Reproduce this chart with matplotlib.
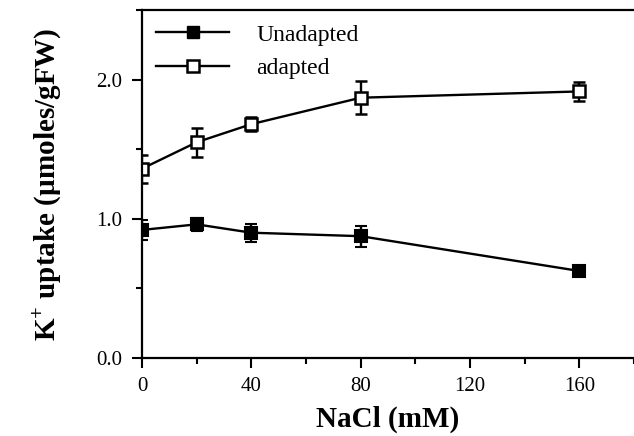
import matplotlib
matplotlib.use("Agg")
import matplotlib.pyplot as plt
from matplotlib.ticker import MultipleLocator
from matplotlib.lines import Line2D

plt.rcParams['font.family'] = ['Liberation Serif', 'DejaVu Serif']
plt.rcParams['mathtext.fontset'] = 'custom'
plt.rcParams['mathtext.rm'] = 'Liberation Serif'
plt.rcParams['mathtext.bf'] = 'Liberation Serif:bold'

nacl = [0, 20, 40, 80, 160]
unadapted = [0.92, 0.96, 0.90, 0.875, 0.625]
unadapted_err = [0.07, 0.045, 0.065, 0.075, 0.03]
adapted = [1.36, 1.55, 1.68, 1.87, 1.915]
adapted_err = [0.10, 0.105, 0.05, 0.12, 0.07]

fig = plt.figure(figsize=(6.34, 4.36), dpi=100)
ax = fig.add_axes([0.224, 0.179, 0.776, 0.798])

ax.errorbar(nacl, unadapted, yerr=unadapted_err, color='black', lw=1.7,
            marker='s', ms=9, mfc='black', mec='black', mew=1.5,
            capsize=4, capthick=1.7, elinewidth=1.7)
ax.errorbar(nacl, adapted, yerr=adapted_err, color='black', lw=1.7,
            marker='s', ms=9, mfc='white', mec='black', mew=1.8,
            capsize=4, capthick=1.7, elinewidth=1.7)

ax.set_xlim(0, 180)
ax.set_ylim(0, 2.5)
ax.set_xticks([0, 40, 80, 120, 160])
ax.set_yticks([0.0, 1.0, 2.0])
ax.set_yticklabels(['0.0', '1.0', '2.0'])
ax.xaxis.set_minor_locator(MultipleLocator(20))
ax.yaxis.set_minor_locator(MultipleLocator(0.5))
ax.tick_params(which='major', direction='out', length=7, width=1.5, labelsize=15, pad=7)
ax.tick_params(which='minor', direction='out', length=4, width=1.5)
ax.spines['right'].set_visible(False)
for s in ['left', 'bottom', 'top']:
    ax.spines[s].set_linewidth(1.6)

ax.set_xlabel('NaCl (mM)', fontsize=21, fontweight='bold', labelpad=7)
ax.set_ylabel(r'K$^{\mathbf{+}}$ uptake (µmoles/gFW)', fontsize=21,
              fontweight='bold', labelpad=24)

handles = [
    Line2D([], [], color='black', lw=1.7, marker='s', ms=8, mfc='black', mec='black'),
    Line2D([], [], color='black', lw=1.7, marker='s', ms=8, mfc='white', mec='black', mew=1.8),
]
ax.legend(handles, ['Unadapted', 'adapted'], loc='upper left', frameon=False,
          fontsize=17, handlelength=3.1, handletextpad=1.15, borderaxespad=0.3,
          labelspacing=0.5, borderpad=0.3)

fig.savefig('out.png', dpi=100)
